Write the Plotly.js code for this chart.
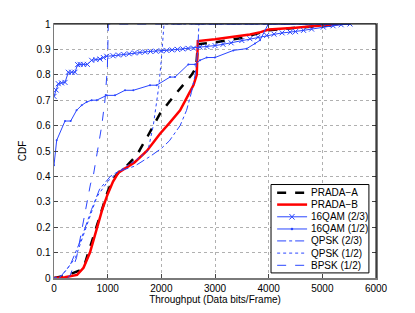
<!DOCTYPE html>
<html><head><meta charset="utf-8">
<script src="https://cdn.plot.ly/plotly-3.0.1.min.js"></script>
<style>html,body{margin:0;padding:0;background:#fff}#c{width:415px;height:313px}</style>
</head><body><div id="c"></div>
<script>
// PRADA-A (black dashed)
const pradaA_x = [0,240,480,580,670,760,860,1000,1100,1200,1350,1540,1750,1975,2220,2400,2565,2650,2680,3000,3500,4000,4500,5200,5300];
const pradaA_y = [0,0.01,0.03,0.06,0.12,0.18,0.24,0.34,0.39,0.415,0.44,0.483,0.56,0.647,0.713,0.76,0.80,0.83,0.92,0.928,0.945,0.975,0.985,0.995,1];
// PRADA-B (red)
const pradaB_x = [0,200,430,550,670,750,800,900,1000,1100,1200,1350,1500,1730,1975,2150,2350,2500,2600,2660,2680,3000,3650,3850,4000,4500,5150,5300];
const pradaB_y = [0,0.003,0.012,0.04,0.10,0.16,0.19,0.27,0.33,0.38,0.415,0.435,0.455,0.50,0.568,0.61,0.66,0.72,0.76,0.80,0.933,0.94,0.959,0.968,0.978,0.985,0.995,1];
// 16QAM (2/3)
const q16a_x = [0,40,80,140,205,267,330,391,440,485,550,621,702,780,857,920,982,1100,1200,1300,1400,1500,1600,1700,1800,1900,2000,2100,2200,2300,2400,2500,2600,2720,2850,3000,3150,3300,3500,3650,3800,3963,4100,4250,4400,4500,4650,4800,5018,5200,5350,5515];
const q16a_y = [0.715,0.74,0.765,0.768,0.77,0.81,0.81,0.81,0.84,0.841,0.841,0.841,0.857,0.86,0.862,0.868,0.873,0.875,0.878,0.88,0.883,0.886,0.888,0.89,0.892,0.893,0.894,0.896,0.898,0.9,0.902,0.904,0.905,0.909,0.911,0.915,0.92,0.926,0.935,0.942,0.948,0.955,0.96,0.965,0.968,0.97,0.975,0.98,0.988,0.993,0.997,1.0];
// 16QAM (1/2)
const q16b_x = [0,50,205,311,420,516,609,700,795,982,1137,1323,1478,1789,1913,2161,2255,2503,2627,2720,2845,2999,3341,3590,3745,3838,3993,4300,4700,5100,5500];
const q16b_y = [0.444,0.542,0.618,0.618,0.66,0.68,0.693,0.70,0.70,0.719,0.719,0.739,0.739,0.759,0.759,0.791,0.791,0.841,0.841,0.857,0.868,0.868,0.896,0.903,0.923,0.936,1.0,1.0,1.0,1.0,1.0];
// QPSK (2/3)
const qpskA_x = [100,300,500,700,850,1050,1200,1500,1800,2000,2150,2350,2470,2560,2630,2680,2700,3500,4500,5500];
const qpskA_y = [0,0.05,0.15,0.27,0.35,0.40,0.42,0.44,0.48,0.51,0.54,0.60,0.66,0.73,0.80,0.90,1.0,1.0,1.0,1.0];
// QPSK (1/2)
const qpskB_x = [0,150,400,600,800,1000,1200,1500,1750,1850,1950,2000,2040,2050,3000,4000,5500];
const qpskB_y = [0,0.01,0.08,0.20,0.32,0.38,0.42,0.46,0.50,0.60,0.75,0.86,0.95,1.0,1.0,1.0,1.0];
// BPSK (1/2)
const bpsk_x = [250,300,420,520,610,680,730,795,890,950,995,1012,2000,3000,4000,5500];
const bpsk_y = [0,0.01,0.08,0.19,0.30,0.37,0.40,0.48,0.60,0.70,0.83,1.0,1.0,1.0,1.0,1.0];

const seriesNames = ['PRADA\u2212A','PRADA\u2212B','16QAM (2/3)','16QAM (1/2)','QPSK (2/3)','QPSK (1/2)','BPSK (1/2)'];

const blue = '#2a46ff';
const styles = [
  {color:'#000',width:2.5,dash:'dash'},
  {color:'#ff0000',width:2.5,dash:'solid'},
  {color:blue,width:1,dash:'solid'},
  {color:blue,width:1,dash:'solid'},
  {color:blue,width:1,dash:'dashdot'},
  {color:blue,width:1,dash:'dot'},
  {color:blue,width:1,dash:'dash'}
];
const xs = [pradaA_x,pradaB_x,q16a_x,q16b_x,qpskA_x,qpskB_x,bpsk_x];
const ys = [pradaA_y,pradaB_y,q16a_y,q16b_y,qpskA_y,qpskB_y,bpsk_y];
const traces = xs.map((x,i)=>{
  const t = {x:x,y:ys[i],name:seriesNames[i],mode:'lines',line:styles[i],showlegend:false};
  if(i===2){t.mode='lines+markers';t.marker={symbol:'x-thin-open',size:5,color:blue,line:{color:blue,width:1}};}
  if(i===3){t.mode='lines+markers';t.marker={symbol:'circle',size:2,color:blue};}
  return t;
});

const font = {family:'Liberation Sans, Arial, sans-serif',size:10,color:'#000'};

// custom compact legend (MATLAB style)
const lgX0=0.674,lgX1=0.978,lgY0=0.02,lgY1=0.368;
const rowY=[0.336,0.289,0.241,0.193,0.146,0.098,0.050];
const sX0=0.693,sX1=0.786,txtX=0.792,mX=0.739;
const shapes=[
  {type:'line',xref:'paper',yref:'paper',x0:0,x1:1,y0:1,y1:1,line:{color:'#000',width:1}},
  {type:'line',xref:'paper',yref:'paper',x0:1,x1:1,y0:0,y1:1,line:{color:'#000',width:1}},
  {type:'rect',xref:'paper',yref:'paper',x0:lgX0,x1:lgX1,y0:lgY0,y1:lgY1,fillcolor:'#fff',line:{color:'#000',width:1},layer:'above'}
];
const annotations=[];
seriesNames.forEach((n,i)=>{
  shapes.push({type:'line',xref:'paper',yref:'paper',x0:sX0,x1:sX1,y0:rowY[i],y1:rowY[i],line:styles[i],layer:'above'});
  annotations.push({xref:'paper',yref:'paper',x:txtX,y:rowY[i],xanchor:'left',yanchor:'middle',text:n,showarrow:false,font:font});
});
// legend markers
const dx=0.008,dy=0.011;
shapes.push({type:'line',xref:'paper',yref:'paper',x0:mX-dx,x1:mX+dx,y0:rowY[2]-dy,y1:rowY[2]+dy,line:{color:blue,width:1},layer:'above'});
shapes.push({type:'line',xref:'paper',yref:'paper',x0:mX-dx,x1:mX+dx,y0:rowY[2]+dy,y1:rowY[2]-dy,line:{color:blue,width:1},layer:'above'});
shapes.push({type:'circle',xref:'paper',yref:'paper',x0:mX-0.004,x1:mX+0.004,y0:rowY[3]-0.005,y1:rowY[3]+0.005,fillcolor:blue,line:{color:blue,width:0},layer:'above'});

const layout = {
  width:415,height:313,
  margin:{l:54,r:39,t:24,b:35},
  paper_bgcolor:'#fff',plot_bgcolor:'#fff',
  font:font,
  showlegend:false,
  xaxis:{range:[0,6000],tickvals:[0,1000,2000,3000,4000,5000,6000],ticks:'inside',ticklen:4,
    showgrid:true,gridcolor:'#b0b0b0',griddash:'dot',gridwidth:1,zeroline:false,
    showline:true,linecolor:'#7a7a7a',linewidth:1.5,mirror:'ticks',
    title:{text:'Throughput (Data bits/Frame)',font:font,standoff:3},tickfont:font},
  yaxis:{range:[0,1],tickvals:[0,0.1,0.2,0.3,0.4,0.5,0.6,0.7,0.8,0.9,1],ticktext:['0','0.1','0.2','0.3','0.4','0.5','0.6','0.7','0.8','0.9','1'],
    ticks:'inside',ticklen:4,
    showgrid:true,gridcolor:'#b0b0b0',griddash:'dot',gridwidth:1,zeroline:false,
    showline:true,linecolor:'#7a7a7a',linewidth:1.5,mirror:'ticks',
    title:{text:'CDF',font:font,standoff:8},tickfont:font},
  shapes:shapes,
  annotations:annotations
};
Plotly.newPlot('c',traces,layout,{displayModeBar:false,staticPlot:true});
</script></body></html>
